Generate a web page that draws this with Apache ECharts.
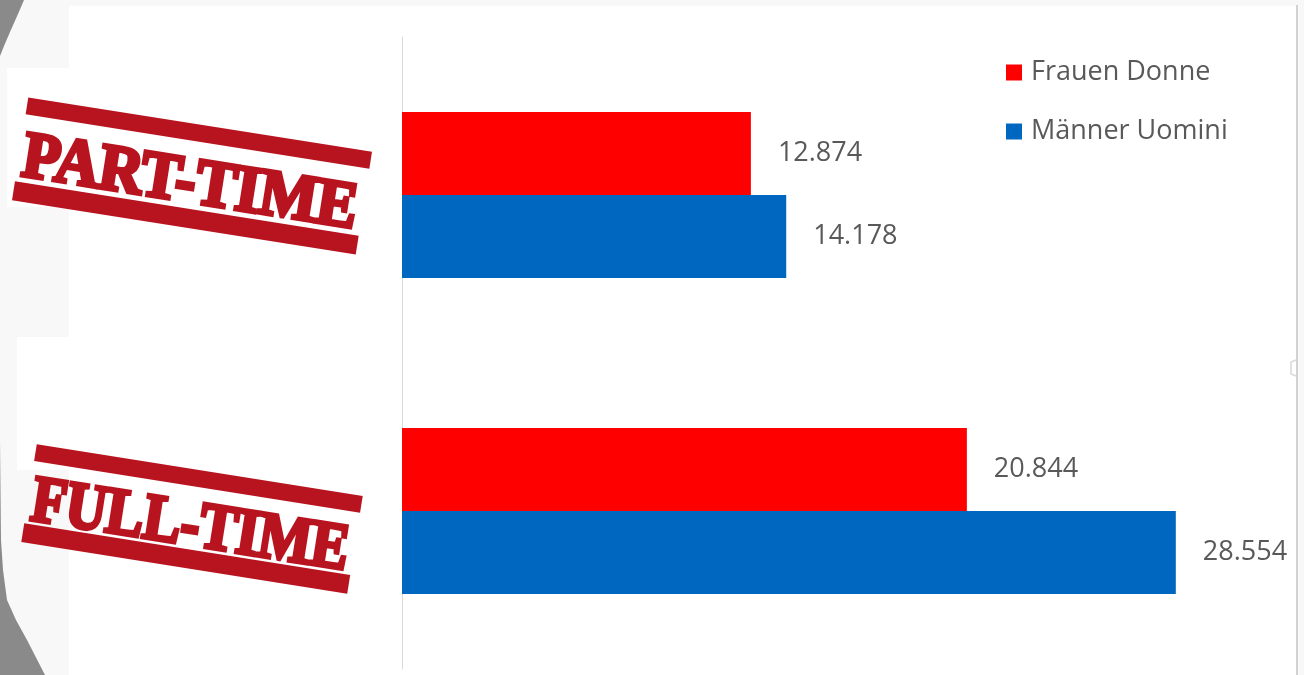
<!DOCTYPE html>
<html>
<head>
<meta charset="utf-8">
<script src="https://cdn.jsdelivr.net/npm/echarts@6/dist/echarts.min.js"></script>
<style>
  html, body { margin: 0; padding: 0; background: #f8f8f8; }
  #chart { width: 1304px; height: 675px; }
</style>
</head>
<body>
<div id="chart"></div>
<script>
// Employment type categories (top to bottom) and the two series
const categories = ['PART-TIME', 'FULL-TIME'];
const seriesNames = ['Frauen Donne', 'Männer Uomini'];
const frauenValues = [12.874, 20.844];
const maennerValues = [14.178, 28.554];
const axisMax = 30;

const STAMP_RED = '#b8141f';
const STAMP_FONT_SIZE = 66;
const STAMP_FONT = 'bold ' + STAMP_FONT_SIZE + 'px "Liberation Serif"';
const STAMP_STROKE = 4;

function measureStampText(text) {
  const ctx = document.createElement('canvas').getContext('2d');
  ctx.font = STAMP_FONT;
  return ctx.measureText(text).width + STAMP_STROKE;
}

// Rubber-stamp category labels: centre, size and clockwise tilt in degrees
const stampLayout = [
  { x: 192, y: 176, w: 348, h: 104, tilt: 9 },
  { x: 192, y: 519, w: 330, h: 99, tilt: 9 }
];

function stamp(label, s) {
  const textW = s.w - 6;
  const sx = textW / measureStampText(label);
  const barTop = 17, barBottom = 19;
  return {
    type: 'group',
    x: s.x, y: s.y,
    rotation: -s.tilt * Math.PI / 180,
    z: 20,
    children: [
      { type: 'rect', shape: { x: -s.w / 2, y: -s.h / 2, width: s.w, height: barTop },
        style: { fill: STAMP_RED } },
      { type: 'rect', shape: { x: -s.w / 2, y: s.h / 2 - barBottom, width: s.w, height: barBottom },
        style: { fill: STAMP_RED } },
      { type: 'text', x: -s.w / 2 + 4, y: 9, scaleX: sx, scaleY: 1.0,
        style: { text: label, font: STAMP_FONT, fill: STAMP_RED,
                 stroke: STAMP_RED, lineWidth: STAMP_STROKE,
                 align: 'left', verticalAlign: 'middle' } }
    ]
  };
}

// grey slide corners outside the rounded white panel
const topCorner = [[0, 0], [24, 0], [18, 14], [10, 32], [4, 46], [0, 56]];
const bottomCorner = [[0, 440], [1, 540], [3, 570], [7, 600], [16, 620], [27, 640], [45, 675], [0, 675]];

const chart = echarts.init(document.getElementById('chart'));

const valueLabel = {
  show: true,
  position: 'right',
  distance: 27,
  color: '#595959',
  fontFamily: 'Open Sans',
  fontSize: 27,
  formatter: p => p.value.toFixed(3)
};

const option = {
  backgroundColor: '#f8f8f8',
  animation: false,
  graphic: [
    // slide background pieces
    { type: 'rect', z: -10, shape: { x: 69, y: 6, width: 1227, height: 669 }, style: { fill: '#ffffff' } },
    { type: 'rect', z: -10, shape: { x: 7, y: 68, width: 62, height: 139 }, style: { fill: '#ffffff' } },
    { type: 'rect', z: -10, shape: { x: 17, y: 337, width: 52, height: 133 }, style: { fill: '#ffffff' } },
    { type: 'polygon', z: -9, shape: { points: topCorner }, style: { fill: '#8a8a8a' } },
    { type: 'polygon', z: -9, shape: { points: bottomCorner }, style: { fill: '#8a8a8a' } },
    { type: 'line', z: -9, shape: { x1: 1297, y1: 5, x2: 1297, y2: 675 }, style: { stroke: '#d2d2d2', lineWidth: 2 } },
    { type: 'polyline', z: -9, shape: { points: [[1296, 360], [1291, 362], [1291, 374], [1296, 376]] },
      style: { stroke: '#d8d8d8', lineWidth: 1.5, fill: null } },
    stamp(categories[0], stampLayout[0]),
    stamp(categories[1], stampLayout[1])
  ],
  legend: {
    orient: 'vertical',
    left: 1001,
    top: 54,
    itemWidth: 16,
    itemHeight: 16,
    itemGap: 32,
    icon: 'rect',
    textStyle: { color: '#595959', fontFamily: 'Open Sans', fontSize: 27, padding: [0, 0, 0, 4] },
    data: seriesNames
  },
  grid: { left: 402, right: 89, top: 37, bottom: 6, containLabel: false },
  xAxis: {
    type: 'value',
    min: 0,
    max: axisMax,
    show: false
  },
  yAxis: {
    type: 'category',
    inverse: true,
    data: categories,
    axisLine: { show: true, lineStyle: { color: '#d9d9d9', width: 1 } },
    axisTick: { show: false },
    axisLabel: { show: false }
  },
  series: [
    {
      name: seriesNames[0],
      type: 'bar',
      data: frauenValues,
      barWidth: 83,
      barGap: '0%',
      itemStyle: { color: '#ff0000' },
      label: valueLabel
    },
    {
      name: seriesNames[1],
      type: 'bar',
      data: maennerValues,
      barWidth: 83,
      barGap: '0%',
      itemStyle: { color: '#0067c0' },
      label: valueLabel
    }
  ]
};

chart.setOption(option);
</script>
</body>
</html>
